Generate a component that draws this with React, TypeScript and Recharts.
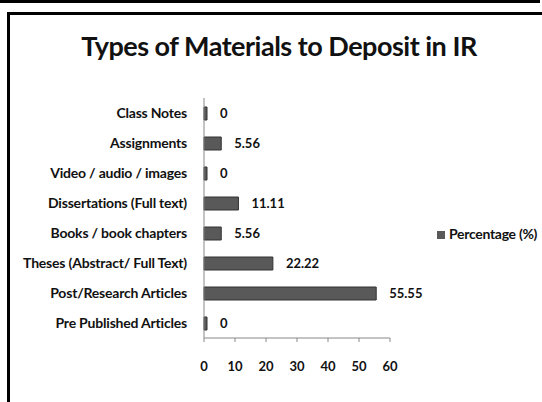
import React from "react";
import { Bar, BarChart, LabelList, Legend, XAxis, YAxis } from "recharts";

const categories = [
  "Class Notes",
  "Assignments",
  "Video / audio / images",
  "Dissertations (Full text)",
  "Books / book chapters",
  "Theses (Abstract/ Full Text)",
  "Post/Research Articles",
  "Pre Published Articles",
];
const percentages = [0, 5.56, 0, 11.11, 5.56, 22.22, 55.55, 0];
const xTicks = [0, 10, 20, 30, 40, 50, 60];

const data = categories.map((name, i) => ({ name, value: percentages[i] }));

const FONT = "Lato, 'Open Sans', sans-serif";

const App = () => {
  return (
    <div
      style={{
        position: "absolute",
        left: 0,
        top: 0,
        width: 542,
        height: 402,
        background: "#fff",
        overflow: "hidden",
        fontFamily: FONT,
      }}
    >
      {/* top rule and chart frame */}
      <div style={{ position: "absolute", left: 0, top: 0, width: 540, height: 3, background: "#000" }} />
      <div
        style={{
          position: "absolute",
          left: 7,
          top: 12,
          width: 560,
          height: 420,
          borderLeft: "3px solid #000",
          borderTop: "3px solid #000",
        }}
      />
      <div
        style={{
          position: "absolute",
          left: 0,
          width: 560,
          top: 29,
          textAlign: "center",
          fontSize: 27,
          fontWeight: 700,
          color: "#111",
          letterSpacing: -0.5,
        }}
      >
        <span style={{ position: "relative", left: -1 }}>Types of Materials to Deposit in IR</span>
      </div>
      <div style={{ position: "absolute", left: 0, top: 0 }}>
        <BarChart
          width={542}
          height={402}
          data={data}
          layout="vertical"
          margin={{ top: 98, right: 152, bottom: 34, left: 0 }}
          barCategoryGap={8}
        >
          <XAxis
            type="number"
            domain={[0, 60]}
            ticks={xTicks}
            interval={0}
            axisLine={{ stroke: "#888" }}
            tickLine={{ stroke: "#888" }}
            tickSize={4}
            tickMargin={20}
            tick={{ fill: "#111", fontSize: 13, fontWeight: 700, fontFamily: FONT }}
            height={30}
          />
          <YAxis
            type="category"
            dataKey="name"
            width={204}
            axisLine={{ stroke: "#888" }}
            tickLine={false}
            tickSize={0}
            tickMargin={17}
            interval={0}
            tick={{ fill: "#111", fontSize: 14, fontWeight: 700, fontFamily: FONT, letterSpacing: -0.2 }}
          />
          <Legend
            layout="vertical"
            align="center"
            verticalAlign="middle"
            iconType="square"
            iconSize={8}
            wrapperStyle={{ left: 437, top: 223, width: 140, textAlign: "left", whiteSpace: "nowrap" }}
            formatter={(v) => (
              <span style={{ color: "#111", fontSize: 14, fontWeight: 700, fontFamily: FONT, letterSpacing: -0.3 }}>{v}</span>
            )}
          />
          <Bar
            dataKey="value"
            name="Percentage (%)"
            fill="#595959"
            stroke="#333"
            strokeWidth={1}
            barSize={13}
            minPointSize={3}
            isAnimationActive={false}
          >
            <LabelList
              dataKey="value"
              position="right"
              offset={13}
              style={{ fill: "#111", fontSize: 13, fontWeight: 700, fontFamily: FONT }}
            />
          </Bar>
        </BarChart>
      </div>
    </div>
  );
};

export default App;
